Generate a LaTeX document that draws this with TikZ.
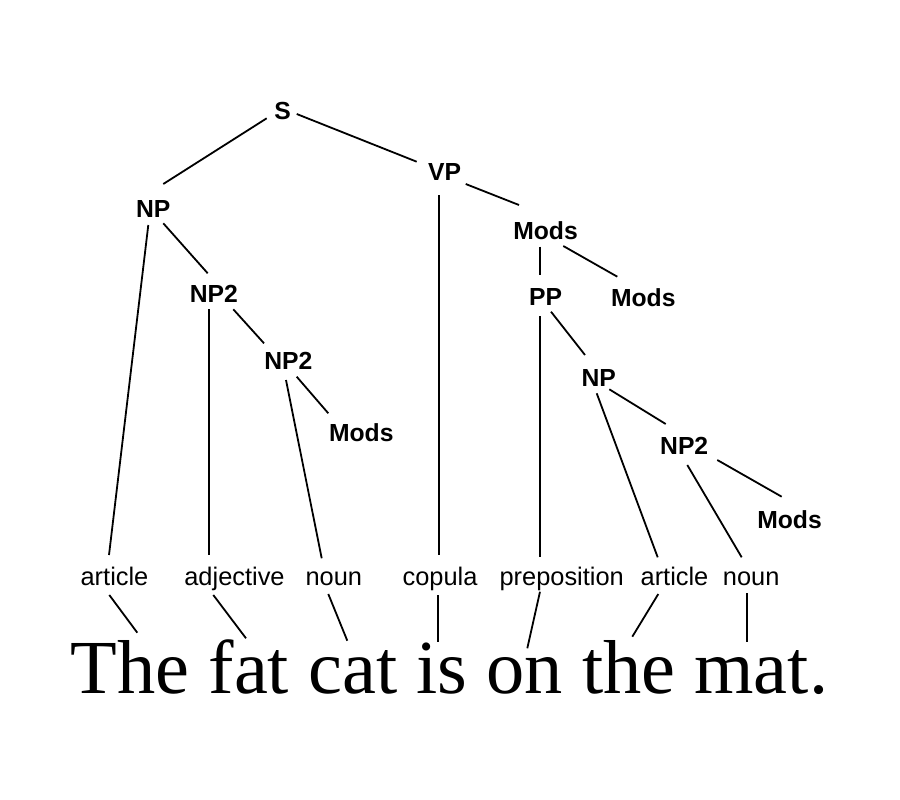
\documentclass[tikz,border=0pt]{standalone}
\usepackage{fontspec}
\setmainfont{Liberation Serif}
\newfontfamily\hv{Liberation Sans}
\usetikzlibrary{calc}
\tikzset{
  cat/.style={font=\hv\bfseries\fontsize{24.7}{28}\selectfont, inner sep=0pt},
  leaf/.style={font=\hv\fontsize{25.4}{28}\selectfont, inner sep=0pt, anchor=base},
  sentence/.style={font=\fontsize{76.4}{80}\selectfont, inner sep=0pt, anchor=base west},
  edge/.style={draw=black, line width=1.8pt}
}
\begin{document}
\begin{tikzpicture}[x=1pt,y=-1pt]
\useasboundingbox (0,0) rectangle (900,800);
% tree category nodes
\node[cat] (S)     at (282.5,110.8) {S};
\node[cat] (NP)    at (153.3,209.2) {NP};
\node[cat] (VP)    at (444.5,172.5) {VP};
\node[cat] (NP2a)  at (213.8,294.2) {NP2};
\node[cat] (NP2b)  at (288.3,361.3) {NP2};
\node[cat] (ModsA) at (361.3,432.5) {Mods};
\node[cat] (Mods1) at (545.5,230.8) {Mods};
\node[cat] (PP)    at (545.5,297.5) {PP};
\node[cat] (Mods2) at (643.3,297.5) {Mods};
\node[cat] (NPr)   at (598.8,377.5) {NP};
\node[cat] (NP2r)  at (684.2,445.8) {NP2};
\node[cat] (Mods3) at (789.5,519.2) {Mods};
% leaf labels
\node[leaf] (art1)  at (114.5,585) {article};
\node[leaf] (adj)   at (234.5,585) {adjective};
\node[leaf] (noun1) at (333.8,585) {noun};
\node[leaf] (cop)   at (440,585)   {copula};
\node[leaf] (prep)  at (561.7,585) {preposition};
\node[leaf] (art2)  at (674.5,585) {article};
\node[leaf] (noun2) at (751.2,585) {noun};
% sentence
\node[sentence] (sent) at (70.5,693.3) {The fat cat is on the mat.};
% tree edges
\draw[edge] ($(S)+(-15.8,7.5)$) -- ($(NP)+(10,-25.2)$);
\draw[edge] ($(S)+(14.2,3.2)$) -- ($(VP)+(-27.8,-10.8)$);
\draw[edge] ($(NP)+(-5,15.8)$) -- ($(art1.base)+(-5.5,-30)$);
\draw[edge] ($(NP)+(10,14.1)$) -- ($(NP2a)+(-6.1,-20.9)$);
\draw[edge] ($(NP2a)+(-4.5,15.1)$) -- ($(adj.base)+(-25.2,-30)$);
\draw[edge] ($(NP2a)+(19.5,15.1)$) -- ($(NP2b)+(-24.3,-18)$);
\draw[edge] ($(NP2b)+(-2.3,18.7)$) -- ($(noun1.base)+(-12.1,-26.7)$);
\draw[edge] ($(NP2b)+(8.4,15.4)$) -- ($(ModsA)+(-33,-19.2)$);
\draw[edge] ($(VP)+(-5.2,22.5)$) -- ($(cop.base)+(-0.7,-30)$);
\draw[edge] ($(VP)+(21.2,11.5)$) -- ($(Mods1)+(-26.5,-25.8)$);
\draw[edge] ($(Mods1)+(-5.5,15.9)$) -- ($(PP)+(-5.5,-22.5)$);
\draw[edge] ($(Mods1)+(17.8,15.2)$) -- ($(Mods2)+(-26,-20.8)$);
\draw[edge] ($(PP)+(-5.5,18.5)$) -- ($(prep.base)+(-21.7,-28.3)$);
\draw[edge] ($(PP)+(5.5,14.2)$) -- ($(NPr)+(-13.8,-22.5)$);
\draw[edge] ($(NPr)+(-2.1,15.8)$) -- ($(art2.base)+(-16.8,-27.7)$);
\draw[edge] ($(NPr)+(10.5,11.8)$) -- ($(NP2r)+(-18.5,-21.8)$);
\draw[edge] ($(NP2r)+(3.1,19.2)$) -- ($(noun2.base)+(-9.5,-27.7)$);
\draw[edge] ($(NP2r)+(33.1,14.2)$) -- ($(Mods3)+(-7.8,-22.5)$);
% leaf to word edges
\draw[edge] ($(art1.base)+(-5.2,10)$) -- ($(sent.base west)+(66.8,-60.6)$);
\draw[edge] ($(adj.base)+(-21.2,10)$) -- ($(sent.base west)+(175.5,-55)$);
\draw[edge] ($(noun1.base)+(-5.5,9)$) -- ($(sent.base west)+(276.8,-52.6)$);
\draw[edge] ($(cop.base)+(-1.7,10)$) -- ($(sent.base west)+(367.8,-51.6)$);
\draw[edge] ($(prep.base)+(-21.7,6.7)$) -- ($(sent.base west)+(456.8,-45)$);
\draw[edge] ($(art2.base)+(-16.2,9)$) -- ($(sent.base west)+(561.8,-56.6)$);
\draw[edge] ($(noun2.base)+(-4.5,8.3)$) -- ($(sent.base west)+(676.2,-51.6)$);
\end{tikzpicture}
\end{document}
